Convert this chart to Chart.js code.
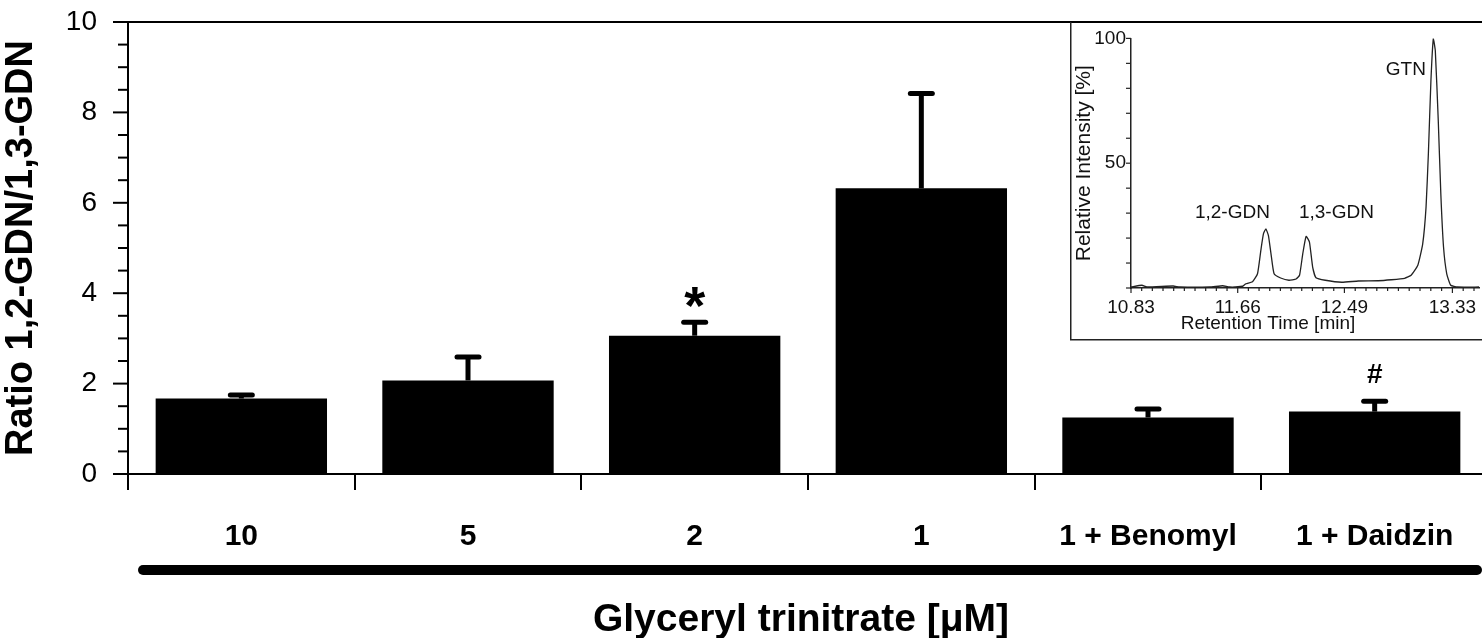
<!DOCTYPE html>
<html><head><meta charset="utf-8">
<script src="https://cdn.jsdelivr.net/npm/chart.js@4.4.1/dist/chart.umd.min.js"></script>
<style>
html,body{margin:0;padding:0;background:#fff;overflow:hidden;width:1482px;height:638px;}
#main{position:absolute;left:0;top:0;}
#insetBox{position:absolute;left:1070px;top:22px;width:412px;height:320px;overflow:hidden;}
#inset{position:absolute;left:0;top:0;}
</style></head><body>
<canvas id="main" width="1488" height="638"></canvas>
<div id="insetBox"><canvas id="inset" width="412" height="320"></canvas></div>
<script>
// ---------- main bar chart data ----------
const categories = ['10', '5', '2', '1', '1 + Benomyl', '1 + Daidzin'];
const means = [1.67, 2.07, 3.06, 6.32, 1.25, 1.38];
const errors = [0.08, 0.52, 0.30, 2.10, 0.19, 0.23];
const sigMarks = ['', '', '*', '', '', '#'];
const yTickValues = [0, 2, 4, 6, 8, 10];

// ---------- inset chromatogram data ----------
const retentionTime = [10.830, 10.915, 10.953, 11.158, 11.210, 11.441, 11.544, 11.596, 11.698, 11.724,
  11.775, 11.814, 11.840, 11.860, 11.879, 11.899, 11.919, 11.943, 11.994, 12.058,
  12.114, 12.141, 12.166, 12.192, 12.218, 12.243, 12.269, 12.341, 12.469, 12.598,
  12.752, 12.855, 12.958, 13.009, 13.061, 13.099, 13.125, 13.143, 13.163, 13.182,
  13.197, 13.220, 13.240, 13.261, 13.286, 13.317, 13.369, 13.539];
const intensity = [0.4, 1.1, 0.4, 0.8, 0.4, 0.4, 0.9, 0.4, 0.7, 1.7,
  2.5, 5.7, 15.1, 21.7, 23.7, 21.0, 13.7, 5.7, 4.0, 3.1,
  3.6, 5.1, 13.7, 20.7, 18.4, 8.4, 4.1, 3.1, 2.3, 2.8,
  2.9, 3.3, 3.9, 5.1, 9.1, 17.7, 32.4, 53.7, 83.1, 100,
  95.1, 67.1, 37.7, 16.4, 5.7, 1.1, 0.4, 0.4];
const insetXTickLabels = [10.83, 11.66, 12.49, 13.33];
const insetYTickLabels = [50, 100];
const peakNames = ['1,2-GDN', '1,3-GDN', 'GTN'];

const FONT = '"Liberation Sans", Arial, Helvetica, sans-serif';

function drawCentered(ctx, text, cx, cy) {
  ctx.textAlign = 'center';
  ctx.textBaseline = 'alphabetic';
  const m = ctx.measureText(text);
  ctx.fillText(text, cx, cy + (m.actualBoundingBoxAscent - m.actualBoundingBoxDescent) / 2);
}

const mainPlugin = {
  id: 'mainDecor',
  afterDraw(chart) {
    const ctx = chart.ctx, ca = chart.chartArea;
    const y = chart.scales.y;
    const meta = chart.getDatasetMeta(0);
    ctx.save();
    ctx.strokeStyle = '#000';
    ctx.fillStyle = '#000';
    // top frame line
    ctx.lineWidth = 2;
    ctx.beginPath();
    ctx.moveTo(ca.left, ca.top);
    ctx.lineTo(chart.width, ca.top);
    ctx.stroke();
    // y ticks (major every 2, minor every 0.5)
    y.ticks.forEach(t => {
      const py = y.getPixelForValue(t.value);
      const major = Math.abs(t.value % 2) < 1e-6;
      ctx.beginPath();
      ctx.moveTo(ca.left - (major ? 15 : 10), py);
      ctx.lineTo(ca.left, py);
      ctx.stroke();
    });
    // error bars (upper only)
    meta.data.forEach((bar, i) => {
      const x = bar.x;
      const top = y.getPixelForValue(means[i]);
      const et = y.getPixelForValue(means[i] + errors[i]);
      ctx.lineWidth = 5;
      ctx.lineCap = 'butt';
      ctx.beginPath();
      ctx.moveTo(x, top);
      ctx.lineTo(x, et);
      ctx.stroke();
      ctx.lineCap = 'round';
      ctx.beginPath();
      ctx.moveTo(x - 11, et);
      ctx.lineTo(x + 11, et);
      ctx.stroke();
      if (sigMarks[i] === '*') {
        ctx.font = 'bold 54px ' + FONT;
        drawCentered(ctx, '*', x, et - 25);
      } else if (sigMarks[i] === '#') {
        ctx.font = 'bold 28px ' + FONT;
        drawCentered(ctx, '#', x, et - 28);
      }
    });
    // y axis title
    ctx.save();
    ctx.translate(22, (ca.top + ca.bottom) / 2);
    ctx.rotate(-Math.PI / 2);
    ctx.font = 'bold 38px ' + FONT;
    ctx.textAlign = 'center';
    ctx.textBaseline = 'middle';
    ctx.fillText('Ratio 1,2-GDN/1,3-GDN', 0, 0);
    ctx.restore();
    // thick group line
    ctx.lineWidth = 10;
    ctx.lineCap = 'round';
    ctx.beginPath();
    ctx.moveTo(143, 570);
    ctx.lineTo(1477, 570);
    ctx.stroke();
    // x axis title
    ctx.font = 'bold 39px ' + FONT;
    ctx.textAlign = 'center';
    ctx.textBaseline = 'middle';
    ctx.fillText('Glyceryl trinitrate [\u03BCM]', 801, 620);
    ctx.restore();
  }
};

new Chart(document.getElementById('main'), {
  type: 'bar',
  data: {
    labels: categories,
    datasets: [{ data: means, backgroundColor: '#000', borderWidth: 0,
      barPercentage: 0.756, categoryPercentage: 1.0 }]
  },
  options: {
    responsive: false, animation: false, devicePixelRatio: 1,
    layout: { padding: { top: 22, left: 0, right: 0, bottom: 0 } },
    plugins: { legend: { display: false }, tooltip: { enabled: false }, title: { display: false } },
    scales: {
      x: {
        type: 'category', offset: true,
        grid: { display: true, drawOnChartArea: false, drawTicks: true, tickLength: 16, offset: true, color: '#000', lineWidth: 2 },
        border: { display: true, color: '#000', width: 2 },
        ticks: { color: '#000', font: { family: FONT, size: 30, weight: 'bold' }, padding: 29, maxRotation: 0, autoSkip: false },
        afterFit(s) { s.height = 164; s.paddingLeft = 0; s.paddingRight = 0; }
      },
      y: {
        min: 0, max: 10,
        grid: { display: false, drawTicks: false },
        border: { display: true, color: '#000', width: 2 },
        ticks: { stepSize: 0.5, autoSkip: false, color: '#000', padding: 31,
          font: { family: FONT, size: 28 },
          callback: v => (yTickValues.includes(v) ? String(v) : '') },
        afterFit(s) { s.width = 128; s.paddingTop = 0; s.paddingBottom = 0; }
      }
    }
  },
  plugins: [mainPlugin]
});

// ---------- inset ----------
const insetPlugin = {
  id: 'insetDecor',
  afterDraw(chart) {
    const ctx = chart.ctx, ca = chart.chartArea;
    const x = chart.scales.x, y = chart.scales.y;
    ctx.save();
    ctx.strokeStyle = '#222';
    ctx.fillStyle = '#111';
    // box border (left, bottom)
    ctx.lineWidth = 1.5;
    ctx.beginPath();
    ctx.moveTo(0.75, 0);
    ctx.lineTo(0.75, chart.height - 2.25);
    ctx.lineTo(chart.width, chart.height - 2.25);
    ctx.stroke();
    // y ticks
    ctx.lineWidth = 1.2;
    y.ticks.forEach(t => {
      const py = y.getPixelForValue(t.value);
      ctx.beginPath();
      ctx.moveTo(ca.left - 5, py);
      ctx.lineTo(ca.left, py);
      ctx.stroke();
    });
    // x ticks
    x.ticks.forEach(t => {
      const px = x.getPixelForValue(t.value);
      const major = insetXTickLabels.some(v => Math.abs(v - t.value) < 1e-6);
      ctx.beginPath();
      ctx.moveTo(px, ca.bottom);
      ctx.lineTo(px, ca.bottom + (major ? 5 : 3));
      ctx.stroke();
    });
    // peak labels
    ctx.font = '19px ' + FONT;
    const anchors = [[11.619, 29.9], [12.428, 29.9], [12.968, 87.9]];
    peakNames.forEach((n, i) => {
      drawCentered(ctx, n, x.getPixelForValue(anchors[i][0]), y.getPixelForValue(anchors[i][1]));
    });
    // axis titles
    ctx.font = '19px ' + FONT;
    drawCentered(ctx, 'Retention Time [min]', 198, 302);
    ctx.save();
    ctx.translate(14, (ca.top + ca.bottom) / 2);
    ctx.rotate(-Math.PI / 2);
    ctx.font = '21px ' + FONT;
    drawCentered(ctx, 'Relative Intensity [%]', 0, 0);
    ctx.restore();
    ctx.restore();
  }
};

new Chart(document.getElementById('inset'), {
  type: 'scatter',
  data: {
    datasets: [{
      data: retentionTime.map((t, i) => ({ x: t, y: intensity[i] })),
      showLine: true, pointRadius: 0, borderColor: '#222', borderWidth: 1.3, tension: 0.15
    }]
  },
  options: {
    responsive: false, animation: false, devicePixelRatio: 1,
    layout: { padding: { top: 15, left: 0, right: 0, bottom: 0 } },
    plugins: { legend: { display: false }, tooltip: { enabled: false } },
    scales: {
      x: {
        type: 'linear', min: 10.83, max: 13.539,
        grid: { display: false, drawTicks: false },
        border: { display: true, color: '#222', width: 1.5 },
        afterBuildTicks(s) {
          const t = [];
          for (let k = 0; k < 3; k++) {
            const a = insetXTickLabels[k], b = insetXTickLabels[k + 1];
            for (let j = 0; j < 10; j++) t.push({ value: a + (b - a) * j / 10 });
          }
          const last = insetXTickLabels[3], step = (insetXTickLabels[3] - insetXTickLabels[2]) / 10;
          for (let v = last; v <= 13.539; v += step) t.push({ value: v });
          s.ticks = t;
        },
        ticks: { color: '#111', padding: 8, maxRotation: 0, autoSkip: false,
          font: { family: FONT, size: 19 },
          callback: v => { const m = insetXTickLabels.find(l => Math.abs(l - v) < 1e-6); return m ? m.toFixed(2) : ''; } },
        afterFit(s) { s.height = 54; }
      },
      y: {
        min: 0, max: 100,
        grid: { display: false, drawTicks: false },
        border: { display: true, color: '#222', width: 1.5 },
        ticks: { stepSize: 10, autoSkip: false, color: '#111', padding: 5,
          font: { family: FONT, size: 19 },
          callback: v => (insetYTickLabels.includes(v) ? String(v) : '') },
        afterFit(s) { s.width = 61; }
      }
    }
  },
  plugins: [insetPlugin]
});
</script>
</body></html>
